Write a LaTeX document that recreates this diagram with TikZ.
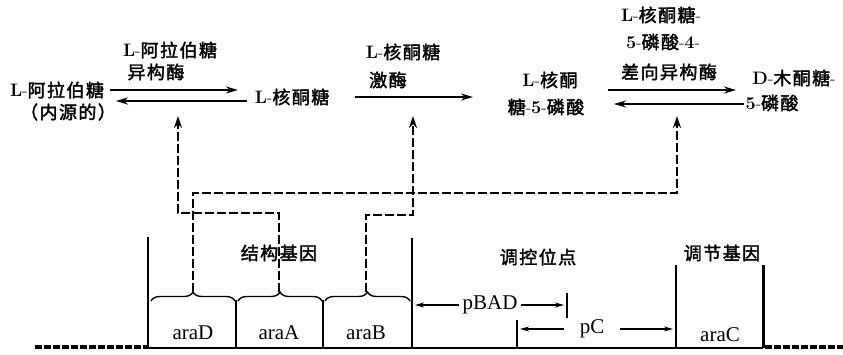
\documentclass[tikz,border=0pt]{standalone}
\usepackage{fontspec}
\newfontfamily\cjk{Noto Sans CJK SC}[LetterSpace=8,FakeBold=2]
\newfontfamily\gser{Liberation Serif}
\usetikzlibrary{arrows.meta,decorations.pathreplacing}
\newcommand\zhf[1]{{\cjk #1}}
\newcommand\lt[1]{\textbf{#1}}
\begin{document}
\begin{tikzpicture}[x=1pt,y=-1pt,
  txt/.style={inner sep=0pt,font=\fontsize{18}{21}\selectfont},
  gtxt/.style={inner sep=0pt,font=\gser\fontsize{21}{24}\selectfont},
  rarr/.style={line width=2pt,-{Stealth[length=12pt,width=7pt]}},
  sarr/.style={line width=1.2pt,-{Stealth[length=9pt,width=5pt]}},
  ctl/.style={line width=2.6pt,dash pattern=on 9pt off 3pt,-{Stealth[length=12pt,width=8pt]}},
  solid line/.style={line width=2pt},
  brc/.style={decorate,decoration={brace,amplitude=9pt},line width=1.4pt},
  dna/.style={line width=3.5pt,dash pattern=on 7pt off 2pt}]
\useasboundingbox (0,0) rectangle (843,354);
% substrates
\node[txt] (s1) at (57,90) {\lt{L}-\zhf{阿拉伯糖}};
\node[txt] (s1b) at (68,112) {\zhf{（内源的）}};
\node[txt] (s2) at (292,97) {\lt{L}-\zhf{核酮糖}};
\node[txt] (s3) at (550,80) {\lt{L}-\zhf{核酮}};
\node[txt] (s3b) at (546,107) {\zhf{糖}-\lt{5}-\zhf{磷酸}};
\node[txt] (s4) at (794,78) {\lt{D}-\zhf{木酮糖}-};
\node[txt] (s4b) at (772,103) {\lt{5}-\zhf{磷酸}};
% enzymes
\node[txt] (t1a) at (170,50) {\lt{L}-\zhf{阿拉伯糖}};
\node[txt] (t1b) at (156,72) {\zhf{异构酶}};
\node[txt] (t2a) at (403,52) {\lt{L}-\zhf{核酮糖}};
\node[txt] (t2b) at (388,80) {\zhf{激酶}};
\node[txt] (t3a) at (661,15) {\lt{L}-\zhf{核酮糖}-};
\node[txt] (t3b) at (663,42) {\lt{5}-\zhf{磷酸}-\lt{4}-};
\node[txt] (t3c) at (669,72) {\zhf{差向异构酶}};
% reaction arrows
\draw[rarr] (s1.east |- 0,90) ++(6,0) -- (238,90);
\draw[rarr] (s2.west |- 0,101) ++(-8,0) -- (116,101);
\draw[rarr] (s2.east |- 0,97) ++(26,0) -- (473,97);
\draw[rarr] (s3b.east |- 0,90) ++(24,0) -- (736,90);
\draw[rarr] (s4.west |- 0,104) ++(-8,0) -- (614,104);
% control targets
\coordinate (e1) at (178,116);
\coordinate (e2) at (413,116);
\coordinate (e3) at (677,116);
\coordinate (bD) at (193,292);
\coordinate (bA) at (279,292);
\coordinate (bB) at (366,292);
\draw[ctl] (bA) -- (bA |- 0,213) -- (e1 |- 0,213) -- (e1);
\draw[ctl] (bB) -- (bB |- 0,215) -- (e2 |- 0,215) -- (e2);
\draw[ctl] (bD) -- (bD |- 0,193) -- (e3 |- 0,193) -- (e3);
% DNA map
\draw[solid line] (148,237) -- (148,348);
\draw[solid line] (236,300) -- (236,348);
\draw[solid line] (323,300) -- (323,348);
\draw[solid line] (412,238) -- (412,348);
\draw[solid line] (676,265) -- (676,348);
\draw[line width=3pt] (763,265) -- (763,348);
\draw[line width=2.5pt] (148,348) -- (763,348);
\draw[dna] (35,347) -- (148,347);
\draw[dna] (765,347) -- (843,347);
\draw[brc] (151,301) -- (235,301);
\draw[brc] (238,301) -- (322,301);
\draw[brc] (325,301) -- (410,301);
\node[gtxt] (gD) at (193,333) {araD};
\node[gtxt] (gA) at (279,333) {araA};
\node[gtxt] (gB) at (366,333) {araB};
\node[gtxt] (gC) at (720,335) {araC};
\node[txt] (h1) at (279,253) {\zhf{结构基因}};
\node[txt] (h2) at (538,257) {\zhf{调控位点}};
\node[txt] (h3) at (722,253) {\zhf{调节基因}};
% promoters
\node[gtxt] (pB) at (490,305) {pBAD};
\node[gtxt] (pc) at (592,329) {pC};
\draw[solid line] (567,293) -- (567,318);
\draw[solid line] (517,320) -- (517,348);
\draw[sarr] ([xshift=-3pt]pB.west) -- ([xshift=3pt]pB.west -| 412,0);
\draw[sarr] ([xshift=3pt]pB.east) -- ([xshift=-3pt]pB.east -| 567,0);
\draw[sarr] ([xshift=-16pt]pc.west) -- ([xshift=3pt]pc.west -| 517,0);
\draw[sarr] ([xshift=16pt]pc.east) -- ([xshift=-3pt]pc.east -| 676,0);
\end{tikzpicture}
\end{document}
